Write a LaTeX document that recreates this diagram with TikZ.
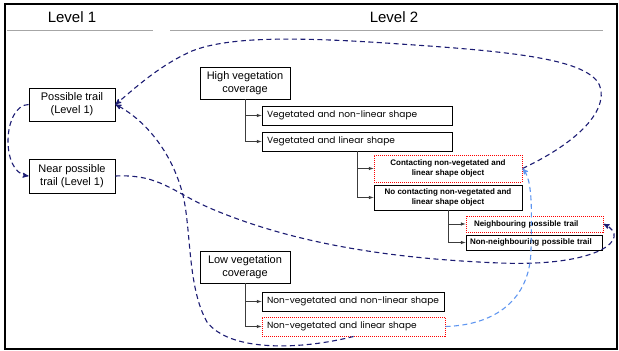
\documentclass[tikz,border=0pt]{standalone}
\usepackage{fontspec}
\usepackage{tikz}
\usetikzlibrary{arrows}
\newfontfamily\arialfont{Liberation Sans}
\newfontfamily\gothicfont{Poppins}
\definecolor{navy}{RGB}{28,28,115}
\definecolor{skyline}{RGB}{95,150,240}
\definecolor{treegray}{RGB}{60,60,60}

\begin{document}
\begin{tikzpicture}[x=1pt,y=-1pt,>=stealth',
      level/.style={font=\arialfont\fontsize{15}{17}\selectfont},
      plain/.style={draw,line width=0.9pt,fill=white,inner sep=0pt,align=center,
        font=\arialfont\fontsize{11}{13}\selectfont},
      shapebox/.style={draw,line width=0.9pt,fill=white,inner xsep=5pt,inner ysep=0pt,
        align=left,font=\gothicfont\fontsize{9}{11}\selectfont},
      object/.style={draw,line width=0.9pt,fill=white,inner sep=0pt,align=center,
        font=\arialfont\bfseries\fontsize{8}{10}\selectfont},
      hit/.style={draw=red,line width=1pt,dash pattern=on 1pt off 1pt},
      tree/.style={->,treegray,line width=0.6pt,>=latex},
      link/.style={->,navy,line width=1.1pt,dash pattern=on 5pt off 3.5pt},
      backlink/.style={->,skyline,line width=1.1pt,dash pattern=on 5pt off 3.5pt}]

    \useasboundingbox (0,0) rectangle (619,351);
    \draw[line width=1.6pt] (5,4) rectangle (617,349);

    % headers
    \node[level] (lv1) at (72,17) {Level 1};
    \node[level] (lv2) at (394,17) {Level 2};
    \draw[gray!70,line width=0.9pt] (7,30) -- (153,30);
    \draw[gray!70,line width=0.9pt] (170,30) -- (603,30);

    % level 1
    \node[plain,minimum width=86,minimum height=33] (pt1) at (72,104.5)
      {Possible trail\\(Level 1)};
    \node[plain,minimum width=86,minimum height=34] (near) at (72,176)
      {Near possible\\trail (Level 1)};

    % level 2, high vegetation
    \node[plain,minimum width=90,minimum height=32] (high) at (245,83)
      {High vegetation\\coverage};
    \node[shapebox,text width=180,minimum height=19] (vnl) at (357,115.5)
      {Vegetated and non-linear shape};
    \node[shapebox,text width=180,minimum height=19] (vl) at (357,141.5)
      {Vegetated and linear shape};
    \node[object,hit,minimum width=148,minimum height=27] (cont) at (448,168.5)
      {Contacting non-vegetated and\\linear shape object};
    \node[object,minimum width=148,minimum height=25] (nocont) at (448,197.5)
      {No contacting non-vegetated and\\linear shape object};
    \node[object,hit,minimum width=137,minimum height=16,align=left,
      text width=121] (nb) at (534.5,224) {Neighbouring possible trail};
    \node[object,minimum width=136,minimum height=15,align=left,
      text width=128] (nnb) at (534,242.5) {Non-neighbouring possible trail};

    % level 2, low vegetation
    \node[plain,minimum width=90,minimum height=32] (low) at (245,267)
      {Low vegetation\\coverage};
    \node[shapebox,text width=172,minimum height=19] (nvnl) at (353,301.5)
      {Non-vegetated and non-linear shape};
    \node[shapebox,hit,text width=173,minimum height=19] (nvl) at (353.5,326.5)
      {Non-vegetated and linear shape};

    \draw[tree] (high.south) |- (vnl.west);
    \draw[tree] (high.south) |- (vl.west);
    \draw[tree] (vl.south) |- (cont.west);
    \draw[tree] (vl.south) |- (nocont.west);
    \draw[tree] (nocont.south) |- (nb.west);
    \draw[tree] (nocont.south) |- (nnb.west);
    \draw[tree] (low.south) |- (nvnl.west);
    \draw[tree] (low.south) |- (nvl.west);

    % dashed links
    \draw[link] (cont.east) .. controls (562,150) and (605,120) .. (601,90)
      .. controls (596,60) and (520,52) .. (400,44)
      .. controls (300,37) and (230,36) .. (192,51)
      .. controls (160,65) and (135,88) .. (pt1.east);
    \draw[link] (pt1.west) .. controls (3,105) and (0,172) .. (near.west);
    \draw[link] (near.east) .. controls (160,174) and (172,192) .. (212,209)
      .. controls (300,246) and (400,259) .. (500,263)
      .. controls (600,267) and (632,238) .. (nb.east);
    \draw[link] (nvl.south) .. controls (300,350) and (230,352) .. (207,322)
      .. controls (186,285) and (192,222) .. (181,188)
      .. controls (168,145) and (140,117) .. (pt1.east);
    \draw[backlink] (nvl.east) .. controls (495,325) and (530,300) .. (531,250)
      .. controls (532,205) and (532,180) .. (cont.east);
  \end{tikzpicture}
\end{document}
